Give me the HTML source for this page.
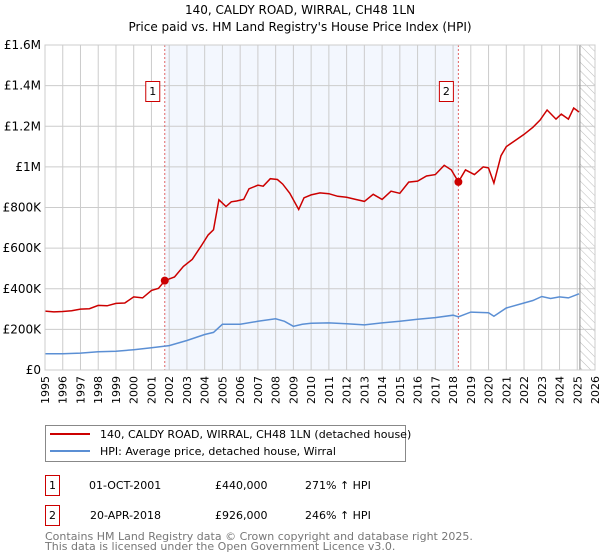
<!DOCTYPE html>
<html><head><meta charset="utf-8"><style>
body{margin:0;background:#fff;font-family:"DejaVu Sans","Liberation Sans",sans-serif;}
svg{display:block}
</style></head><body>
<svg id="c" width="600" height="560" xmlns="http://www.w3.org/2000/svg" font-family="DejaVu Sans, Liberation Sans, sans-serif">
<text x="300" y="14" text-anchor="middle" font-size="12">140, CALDY ROAD, WIRRAL, CH48 1LN</text>
<text x="300" y="31" text-anchor="middle" font-size="12">Price paid vs. HM Land Registry's House Price Index (HPI)</text>
<g id="plot"></g>
<g>
<rect x="45.5" y="425.5" width="360" height="36" fill="#fff" stroke="#888"/>
<line x1="50" y1="434" x2="90" y2="434" stroke="#cc0000" stroke-width="2"/>
<text x="100" y="438" font-size="11">140, CALDY ROAD, WIRRAL, CH48 1LN (detached house)</text>
<line x1="50" y1="451" x2="90" y2="451" stroke="#5b8fd4" stroke-width="2"/>
<text x="100" y="455" font-size="11">HPI: Average price, detached house, Wirral</text>
</g>
<g font-size="11">
<rect x="45.5" y="475.5" width="14" height="20" fill="#fff" stroke="#cc0000"/>
<text x="52.5" y="489" text-anchor="middle">1</text>
<text x="89" y="489">01-OCT-2001</text>
<text x="215" y="489">£440,000</text>
<text x="305" y="489">271% ↑ HPI</text>
<rect x="45.5" y="505.5" width="14" height="20" fill="#fff" stroke="#cc0000"/>
<text x="52.5" y="519" text-anchor="middle">2</text>
<text x="90" y="519">20-APR-2018</text>
<text x="215" y="519">£926,000</text>
<text x="305" y="519">246% ↑ HPI</text>
</g>
<text x="45" y="540" font-size="11" fill="#777">Contains HM Land Registry data © Crown copyright and database right 2025.</text>
<text x="45" y="550" font-size="11" fill="#777">This data is licensed under the Open Government Licence v3.0.</text>
</svg>
<script>
const yTicks=[0,200000,400000,600000,800000,1000000,1200000,1400000,1600000];
const yTickLabels=["£0","£200K","£400K","£600K","£800K","£1M","£1.2M","£1.4M","£1.6M"];
const xYears=[1995,1996,1997,1998,1999,2000,2001,2002,2003,2004,2005,2006,2007,2008,2009,2010,2011,2012,2013,2014,2015,2016,2017,2018,2019,2020,2021,2022,2023,2024,2025,2026];
const propT=[1995,1995.5,1996,1996.5,1997,1997.5,1998,1998.5,1999,1999.5,2000,2000.5,2001,2001.4,2001.75,2002.3,2002.8,2003.3,2003.8,2004.2,2004.5,2004.8,2005.2,2005.5,2005.8,2006.2,2006.5,2007,2007.3,2007.7,2008.1,2008.4,2008.8,2009.3,2009.6,2010,2010.5,2011,2011.5,2012,2012.5,2013,2013.5,2014,2014.5,2015,2015.5,2016,2016.5,2017,2017.5,2017.9,2018.3,2018.7,2019.2,2019.7,2020,2020.3,2020.7,2021,2021.5,2022,2022.5,2022.9,2023.3,2023.8,2024.1,2024.5,2024.8,2025.1];
const propV=[290,286,288,292,300,302,318,316,328,330,360,355,392,402,440,458,510,545,610,665,690,838,805,828,832,840,892,910,905,942,938,915,870,790,848,862,872,868,855,850,840,830,865,840,880,870,925,930,955,962,1008,985,926,985,962,1000,995,920,1055,1100,1130,1160,1195,1230,1280,1235,1260,1235,1290,1270];
const hpiT=[1995,1996,1997,1998,1999,2000,2001,2002,2003,2004,2004.5,2005,2006,2007,2008,2008.5,2009,2009.5,2010,2011,2012,2013,2014,2015,2016,2017,2018,2018.3,2019,2020,2020.3,2021,2022,2022.5,2023,2023.5,2024,2024.5,2025.1];
const hpiV=[80,80,83,90,92,100,110,120,145,175,185,225,225,240,252,240,215,225,230,232,228,222,232,240,250,258,270,262,285,282,265,305,330,342,362,352,360,355,375];
const sales=[{t:2001.75,v:440,n:"1"},{t:2018.3,v:926,n:"2"}];
const X0=45,X1=595,Y0=370,Y1=45;
const sx=t=>X0+(t-1995)/(2026-1995)*(X1-X0);
const sy=v=>Y0-v/1600000*(Y0-Y1);
const NS="http://www.w3.org/2000/svg";
const g=document.getElementById('plot');
function mk(tag,attrs){const e=document.createElementNS(NS,tag);for(const k in attrs)e.setAttribute(k,attrs[k]);g.appendChild(e);return e;}
let e;
e=mk('rect',{x:sx(2001.75),y:Y1,width:sx(2018.3)-sx(2001.75),height:Y0-Y1,fill:'#eef3fd',opacity:0.7});


const defs=document.createElementNS(NS,'defs');defs.innerHTML='<pattern id="hatch" width="6" height="6" patternUnits="userSpaceOnUse" patternTransform="rotate(-45)"><line x1="0" y1="0" x2="0" y2="6" stroke="#bbb" stroke-width="1"/></pattern>';g.appendChild(defs);
e=mk('rect',{x:sx(2025.15),y:Y1,width:X1-sx(2025.15),height:Y0-Y1,fill:'url(#hatch)'});


xYears.forEach(y=>{e=mk('line',{x1:sx(y),x2:sx(y),y1:Y1,y2:Y0,stroke:'#ccc','stroke-width':1});


const t=mk('text',{x:0,y:0,'font-size':11,'text-anchor':'end',transform:`translate(${sx(y)+4},${Y0+6}) rotate(-90)`});t.textContent=y;

});
yTicks.forEach((v,i)=>{e=mk('line',{x1:X0,x2:X1,y1:sy(v),y2:sy(v),stroke:'#ccc','stroke-width':1});


const t=mk('text',{x:X0-4,y:sy(v)+4,'font-size':12,'text-anchor':'end'});t.textContent=yTickLabels[i];

});
e=mk('line',{x1:sx(2025.15),x2:sx(2025.15),y1:Y1,y2:Y0,stroke:'#888','stroke-width':1});


sales.forEach(s=>{e=mk('line',{x1:sx(s.t),x2:sx(s.t),y1:Y1,y2:Y0,stroke:'#e06666','stroke-dasharray':'2,2','stroke-width':1});

});
e=mk('path',{d:hpiT.map((t,i)=>(i?'L':'M')+sx(t).toFixed(1)+','+sy(hpiV[i]*1000).toFixed(1)).join(''),fill:'none',stroke:'#5b8fd4','stroke-width':1.5});


e=mk('path',{d:propT.map((t,i)=>(i?'L':'M')+sx(t).toFixed(1)+','+sy(propV[i]*1000).toFixed(1)).join(''),fill:'none',stroke:'#cc0000','stroke-width':1.5});


sales.forEach(s=>{e=mk('circle',{cx:sx(s.t),cy:sy(s.v*1000),r:4,fill:'#cc0000'});


const bx=sx(s.t)-12;
e=mk('rect',{x:bx-7,y:81.5,width:14,height:20,fill:'#fff',stroke:'#cc0000'});


const t=mk('text',{x:bx,y:95,'font-size':11,'text-anchor':'middle'});t.textContent=s.n;

});
e=mk('rect',{x:X0,y:Y1,width:X1-X0,height:Y0-Y1,fill:'none',stroke:'#ccc'});


</script>
</body></html>
